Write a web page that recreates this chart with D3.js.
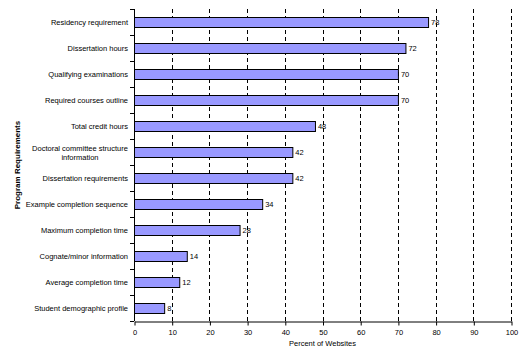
<!DOCTYPE html>
<html>
<head>
<meta charset="utf-8">
<script src="https://cdn.jsdelivr.net/npm/d3@7"></script>
<style>
  body { margin: 0; background: #fff; }
  svg text { font-family: "Liberation Sans", Arial, sans-serif; }
</style>
</head>
<body>
<svg id="chart" width="528" height="353"></svg>
<script>
// ─── Data ────────────────────────────────────────────────────────────────────

const categories = [
  'Residency requirement',
  'Dissertation hours',
  'Qualifying examinations',
  'Required courses outline',
  'Total credit hours',
  'Doctoral committee structure|information',
  'Dissertation requirements',
  'Example completion sequence',
  'Maximum completion time',
  'Cognate/minor information',
  'Average completion time',
  'Student demographic profile',
];
const values = [78, 72, 70, 70, 48, 42, 42, 34, 28, 14, 12, 8];
const xTicks = [0, 10, 20, 30, 40, 50, 60, 70, 80, 90, 100];

// ─── Setup ───────────────────────────────────────────────────────────────────

const svg = d3.select('#chart');
const margin = { left: 134, right: 17, top: 9, bottom: 32 };
const W = 528, H = 353;
const yBottom = H - margin.bottom;

const x = d3.scaleLinear().domain([0, 100]).range([margin.left, W - margin.right]);
const y = d3.scaleBand().domain(categories).range([margin.top, yBottom])
  .paddingInner(0.615).paddingOuter(0.3075);

// gridlines
svg.append('g')
  .selectAll('line')
  .data(xTicks.slice(1))
  .join('line')
  .attr('x1', d => Math.round(x(d)) + 0.5).attr('x2', d => Math.round(x(d)) + 0.5)
  .attr('y1', margin.top).attr('y2', yBottom)
  .attr('stroke', '#000').attr('stroke-width', 1)
  .attr('stroke-dasharray', '4,3');

// bars
svg.append('g')
  .selectAll('rect')
  .data(values)
  .join('rect')
  .attr('x', x(0) + 0.5)
  .attr('y', (d, i) => Math.round(y(categories[i])) + 0.5)
  .attr('width', d => x(d) - x(0))
  .attr('height', Math.round(y.bandwidth()))
  .attr('fill', '#9999ff')
  .attr('stroke', '#000').attr('stroke-width', 1);

// value labels
svg.append('g')
  .selectAll('text')
  .data(values)
  .join('text')
  .attr('x', d => x(d) + 3)
  .attr('y', (d, i) => y(categories[i]) + y.bandwidth() / 2 + 0.5)
  .attr('dy', '0.35em')
  .attr('font-size', 7.5)
  .text(d => d);

// left axis line + boundary ticks
const step = y.step();
svg.append('line')
  .attr('x1', x(0) + 0.5).attr('x2', x(0) + 0.5)
  .attr('y1', margin.top).attr('y2', yBottom)
  .attr('stroke', '#000');
svg.append('g')
  .selectAll('line')
  .data(d3.range(categories.length + 1))
  .join('line')
  .attr('x1', x(0) - 4).attr('x2', x(0))
  .attr('y1', i => Math.round(margin.top + i * step) + 0.5)
  .attr('y2', i => Math.round(margin.top + i * step) + 0.5)
  .attr('stroke', '#000');

// category labels
const catG = svg.append('g');
categories.forEach((c, i) => {
  const lines = c.split('|');
  const cy = y(c) + y.bandwidth() / 2 + 0.5;
  const multi = lines.length > 1;
  const t = catG.append('text')
    .attr('text-anchor', multi ? 'middle' : 'end')
    .attr('font-size', 7.5);
  lines.forEach((ln, j) => {
    t.append('tspan')
      .attr('x', multi ? 80 : 128)
      .attr('y', cy + (j - (lines.length - 1) / 2) * 9)
      .attr('dy', '0.35em')
      .text(ln);
  });
});

// bottom axis
const xAxis = d3.axisBottom(x).tickValues(xTicks).tickSize(4).tickSizeOuter(0);
const gx = svg.append('g')
  .attr('transform', `translate(0.5,${yBottom + 0.5})`)
  .call(xAxis);
gx.select('.domain').attr('stroke', '#000');
gx.selectAll('.tick line').attr('stroke', '#000');
gx.selectAll('.tick text')
  .attr('font-size', 7.5)
  .attr('font-family', '"Liberation Sans", Arial, sans-serif')
  .attr('fill', '#000')
  .attr('dy', '0.9em');

// axis titles
svg.append('text')
  .attr('x', x(50)).attr('y', 346)
  .attr('text-anchor', 'middle')
  .attr('font-size', 7.5)
  .text('Percent of Websites');

svg.append('text')
  .attr('transform', `translate(20,${(margin.top + yBottom) / 2}) rotate(-90)`)
  .attr('text-anchor', 'middle')
  .attr('font-size', 8)
  .attr('font-weight', 'bold')
  .text('Program Requirements');
</script>
</body>
</html>
